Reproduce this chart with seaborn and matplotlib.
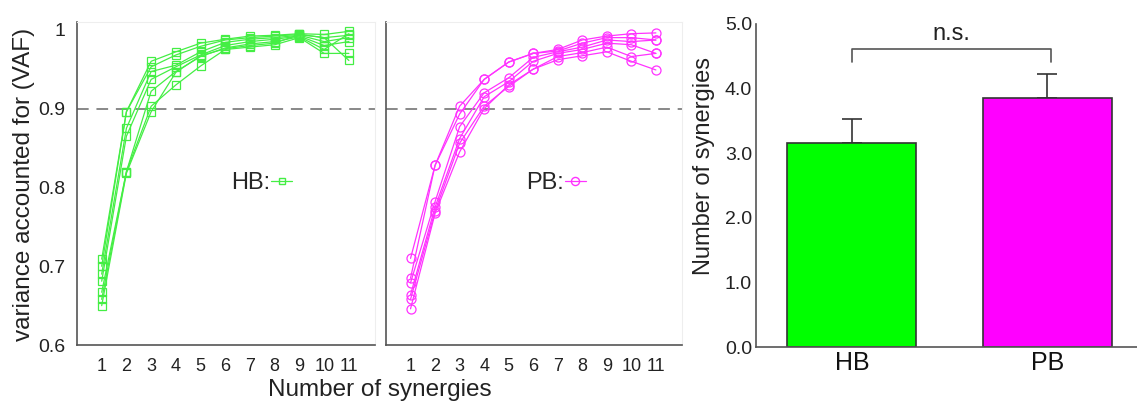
import numpy as np
import pandas as pd
import matplotlib
matplotlib.use("Agg")
import matplotlib.pyplot as plt
from matplotlib.lines import Line2D
import seaborn as sns

sns.set_theme(style="white")
plt.rcParams['font.family'] = ['Liberation Sans', 'DejaVu Sans']

n_syn = list(range(1, 12))

hb_1 = [0.709, 0.896, 0.960, 0.972, 0.983, 0.988, 0.992, 0.993, 0.995, 0.994, 0.998]
hb_2 = [0.700, 0.896, 0.953, 0.968, 0.979, 0.987, 0.990, 0.992, 0.994, 0.990, 0.993]
hb_3 = [0.690, 0.875, 0.947, 0.955, 0.972, 0.984, 0.988, 0.990, 0.993, 0.985, 0.990]
hb_4 = [0.681, 0.865, 0.937, 0.953, 0.968, 0.980, 0.985, 0.988, 0.992, 0.980, 0.985]
hb_5 = [0.667, 0.820, 0.922, 0.947, 0.966, 0.977, 0.982, 0.985, 0.991, 0.975, 0.995]
hb_6 = [0.658, 0.820, 0.903, 0.930, 0.954, 0.975, 0.978, 0.981, 0.990, 0.970, 0.970]
hb_7 = [0.650, 0.818, 0.896, 0.946, 0.967, 0.976, 0.980, 0.983, 0.994, 0.990, 0.961]

pb_1 = [0.710, 0.828, 0.903, 0.937, 0.959, 0.970, 0.975, 0.987, 0.992, 0.995, 0.996]
pb_2 = [0.685, 0.828, 0.893, 0.937, 0.959, 0.970, 0.973, 0.983, 0.990, 0.990, 0.987]
pb_3 = [0.679, 0.782, 0.877, 0.920, 0.939, 0.965, 0.972, 0.978, 0.987, 0.985, 0.987]
pb_4 = [0.664, 0.775, 0.862, 0.915, 0.934, 0.960, 0.970, 0.975, 0.983, 0.981, 0.970]
pb_5 = [0.658, 0.770, 0.856, 0.903, 0.928, 0.950, 0.966, 0.971, 0.978, 0.966, 0.970]
pb_6 = [0.646, 0.767, 0.845, 0.900, 0.930, 0.950, 0.962, 0.967, 0.972, 0.960, 0.949]

groups = ["HB", "PB"]
mean_syn = [3.15, 3.85]
sd_syn = [0.38, 0.37]

hb_lines = [hb_1, hb_2, hb_3, hb_4, hb_5, hb_6, hb_7]
pb_lines = [pb_1, pb_2, pb_3, pb_4, pb_5, pb_6]

def long_df(lines):
    rows = []
    for i, vals in enumerate(lines):
        for n, v in zip(n_syn, vals):
            rows.append({"subj": i, "n": n, "vaf": v})
    return pd.DataFrame(rows)

GREEN_L = "#44ee44"
MAG_L = "#ff33ff"
SPINE = "#555555"

fig = plt.figure(figsize=(11.37, 4.05), dpi=100)
ax1 = fig.add_axes([0.0677, 0.148, 0.262, 0.798])
ax2 = fig.add_axes([0.3395, 0.148, 0.260, 0.798])
ax3 = fig.add_axes([0.665, 0.143, 0.335, 0.798])

for ax, lines, col, mk, ms, lab, lx in [
        (ax1, hb_lines, GREEN_L, "s", 5.5, "HB:", 0.62),
        (ax2, pb_lines, MAG_L, "o", 6.5, "PB:", 0.575)]:
    df = long_df(lines)
    sns.lineplot(data=df, x="n", y="vaf", units="subj", estimator=None, ax=ax,
                 color=col, lw=0.9, marker=mk, markersize=ms,
                 markerfacecolor="none", markeredgecolor=col, markeredgewidth=0.9)
    ax.axhline(0.9, color="#888888", lw=1.4, ls=(0, (6, 4)), zorder=0)
    ax.set_xlim(0, 12.05)
    ax.set_ylim(0.6, 1.01)
    ax.set_xticks(n_syn)
    ax.set_yticks([0.6, 0.7, 0.8, 0.9, 1.0])
    ax.set_xlabel("")
    ax.set_ylabel("")
    for s in ["left", "bottom"]:
        ax.spines[s].set_color(SPINE)
        ax.spines[s].set_linewidth(1.2)
    for s in ["top", "right"]:
        ax.spines[s].set_color("#eeeeee")
        ax.spines[s].set_linewidth(0.8)
    ax.tick_params(axis="x", length=0, labelsize=13, pad=9, colors="#222222")
    h = Line2D([], [], color=col, lw=0.9, marker=mk, markersize=ms * 0.9,
               markerfacecolor="none", markeredgecolor=col)
    ax.legend(handles=[h], labels=[lab], markerfirst=False, frameon=False,
              loc="center", bbox_to_anchor=(lx, 0.5), fontsize=17,
              handlelength=0.9, handletextpad=0.05, borderpad=0)

ax1.tick_params(axis="y", direction="out", length=5, width=1, colors=SPINE,
                labelsize=14, labelcolor="#222222")
ax1.set_yticklabels(["0.6", "0.7", "0.8", "0.9", "1"])
ax2.tick_params(axis="y", direction="in", length=5, width=1, colors=SPINE,
                labelleft=False)

fig.text(0.021, 0.545, "variance accounted for (VAF)", rotation=90,
         ha="center", va="center", fontsize=17.5, color="#222222")
fig.text(0.334, 0.036, "Number of synergies", ha="center", va="center",
         fontsize=17.5, color="#222222")

# Bar chart
bdf = pd.DataFrame({"group": groups, "mean": mean_syn})
sns.barplot(data=bdf, x="group", y="mean", hue="group", saturation=1,
            palette=["#00ff00", "#ff00ff"], ax=ax3, width=0.66,
            edgecolor="#333333", linewidth=1.2, legend=False, errorbar=None)
ax3.errorbar([0, 1], mean_syn, yerr=[[0, 0], sd_syn], fmt="none",
             ecolor="#333333", elinewidth=1.2, capsize=7, capthick=1.2, zorder=0)
ax3.set_xlim(-0.49, 1.46)
ax3.set_ylim(0, 5)
ax3.set_yticks([0, 1, 2, 3, 4, 5])
ax3.set_yticklabels(["0.0", "1.0", "2.0", "3.0", "4.0", "5.0"])
ax3.set_xlabel("")
ax3.set_ylabel("")
ax3.spines["top"].set_visible(False)
ax3.spines["right"].set_visible(False)
for s in ["left", "bottom"]:
    ax3.spines[s].set_color(SPINE)
    ax3.spines[s].set_linewidth(1.2)
ax3.tick_params(axis="y", direction="in", length=8, width=1, colors=SPINE,
                labelsize=14, labelcolor="#222222", pad=3)
ax3.tick_params(axis="x", which="major", length=0, labelsize=18,
                labelcolor="#111111", pad=3)
ax3.set_xticks([0.5], minor=True)
ax3.tick_params(axis="x", which="minor", direction="in", length=8, width=1,
                colors=SPINE)
fig.text(0.619, 0.59, "Number of synergies", rotation=90, ha="center",
         va="center", fontsize=17, color="#222222")

# significance bracket
bx = [0, 0, 1.02, 1.02]
by = [4.41, 4.61, 4.61, 4.41]
ax3.plot(bx, by, color="#555555", lw=1.2, clip_on=False)
ax3.text(0.51, 4.84, "n.s.", ha="center", va="center", fontsize=17,
         color="#222222")

fig.savefig("out.png", dpi=100)
